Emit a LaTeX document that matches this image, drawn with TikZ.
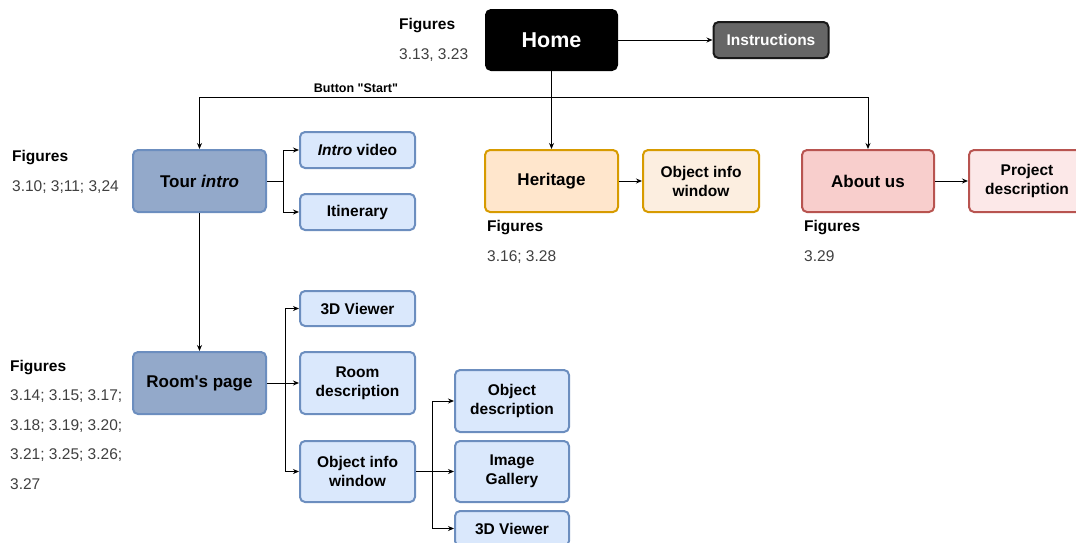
\documentclass[tikz,border=0pt]{standalone}
\usepackage{fontspec}
\setmainfont{Liberation Sans}
\usetikzlibrary{arrows.meta}
\definecolor{navfill}{HTML}{93A9CA}
\definecolor{navline}{HTML}{6C8EBF}
\definecolor{subfill}{HTML}{DAE8FC}
\definecolor{herfill}{HTML}{FFE6CC}
\definecolor{herlight}{HTML}{FCEEE0}
\definecolor{herline}{HTML}{D79B00}
\definecolor{aboutfill}{HTML}{F8CECC}
\definecolor{aboutlight}{HTML}{FCE8E8}
\definecolor{aboutline}{HTML}{B85450}
\definecolor{numgray}{HTML}{404040}
\tikzset{every node/.style={font=\fontsize{15.5}{19}\selectfont\bfseries},
  box/.style={draw, rounded corners=5pt, line width=2pt, align=center, inner sep=0pt},
  mainbox/.style={box, minimum width=133pt, minimum height=62pt,
    font=\fontsize{17}{20}\selectfont\bfseries},
  subbox/.style={box, minimum width=115pt, minimum height=62pt},
  thinbox/.style={box, minimum width=115pt, minimum height=36pt},
  navbox/.style={fill=navfill, draw=navline},
  bluebox/.style={fill=subfill, draw=navline},
  figs/.style={anchor=north west, align=left, inner sep=0pt, text=numgray,
    font=\fontsize{15.5}{29.5}\selectfont},
  link/.style={-{Stealth[length=6pt,width=5pt]}, line width=1pt}}

\begin{document}
\begin{tikzpicture}[x=1pt, y=-1pt]
    \clip (0,0) rectangle (1076,542);
    % top level
    \node[box, fill=black, text=white, minimum width=131pt, minimum height=60pt,
      font=\fontsize{21.5}{24}\selectfont\bfseries] (home) at (551.5,40) {Home};
    \node[thinbox, fill=black!60, draw=black!90, text=white] (instr) at (771,40) {Instructions};
    \node[figs] (fighome) at (399,18.4) {{\color{black}\bfseries Figures}\\3.13, 3.23};
    \draw[link] (home) -- (instr);
    % main pages
    \node[mainbox, navbox] (tour) at (199.5,181) {Tour \textit{intro}};
    \node[mainbox, fill=herfill, draw=herline] (heritage) at (551.5,181) {Heritage};
    \node[subbox, minimum width=116pt, fill=herlight, draw=herline] (heritinfo) at (701,181) {Object info\\window};
    \node[mainbox, minimum width=132pt, fill=aboutfill, draw=aboutline] (about) at (868,181) {About us};
    \node[subbox, minimum width=116pt, fill=aboutlight, draw=aboutline] (project) at (1027,181) {Project\\description};
    \coordinate (split) at (551.5,97);
    \node[font=\fontsize{12.5}{14}\selectfont\bfseries] (startlbl) at (356,88) {Button \textquotedbl Start\textquotedbl};
    \draw[line width=1pt] (home) -- (split);
    \draw[link] (split) -- (heritage);
    \draw[link] (split) -| (tour);
    \draw[link] (split) -| (about);
    \draw[link] (heritage) -- (heritinfo);
    \draw[link] (about) -- (project);
    \node[figs] (figtour) at (12,150.4) {{\color{black}\bfseries Figures}\\3.10; 3;11; 3,24};
    \node[figs] (figher) at (487,220.4) {{\color{black}\bfseries Figures}\\3.16; 3.28};
    \node[figs] (figabout) at (804,220.4) {{\color{black}\bfseries Figures}\\3.29};
    % tour intro
    \node[thinbox, bluebox] (introvid) at (357.5,150) {\textit{Intro} video};
    \node[thinbox, bluebox] (itin) at (357.5,212) {Itinerary};
    \coordinate (tourfork) at (283,181);
    \draw[line width=1pt] (tour) -- (tourfork);
    \draw[link] (tourfork) |- (introvid);
    \draw[link] (tourfork) |- (itin);
    % room's page
    \node[mainbox, navbox] (room) at (199.5,383) {Room\textquotesingle s page};
    \draw[link] (tour) -- (room);
    \node[thinbox, bluebox, minimum height=35pt] (viewer) at (357.5,308.5) {3D Viewer};
    \node[subbox, bluebox] (roomdesc) at (357.5,383) {Room\\description};
    \node[subbox, bluebox, minimum height=61pt] (objinfo) at (357.5,471.5) {Object info\\window};
    \coordinate (roomfork) at (285,383);
    \draw[link] (room) -- (roomdesc);
    \draw[link] (roomfork) |- (viewer);
    \draw[link] (roomfork) |- (objinfo);
    \node[figs] (figroom) at (10,359.9) {{\color{black}\bfseries Figures}\\3.14; 3.15; 3.17;\\3.18; 3.19; 3.20;\\3.21; 3.25; 3.26;\\3.27};
    % object info window
    \node[subbox, bluebox, minimum width=114pt] (objdesc) at (512,401) {Object\\description};
    \node[subbox, bluebox, minimum width=114pt, minimum height=61pt] (gallery) at (512,471.5) {Image\\Gallery};
    \node[thinbox, bluebox, minimum width=114pt, minimum height=35pt] (viewerb) at (512,528.5) {3D Viewer};
    \coordinate (objfork) at (432,471.5);
    \draw[link] (objinfo) -- (gallery);
    \draw[link] (objfork) |- (objdesc);
    \draw[link] (objfork) |- (viewerb);
  \end{tikzpicture}
\end{document}
